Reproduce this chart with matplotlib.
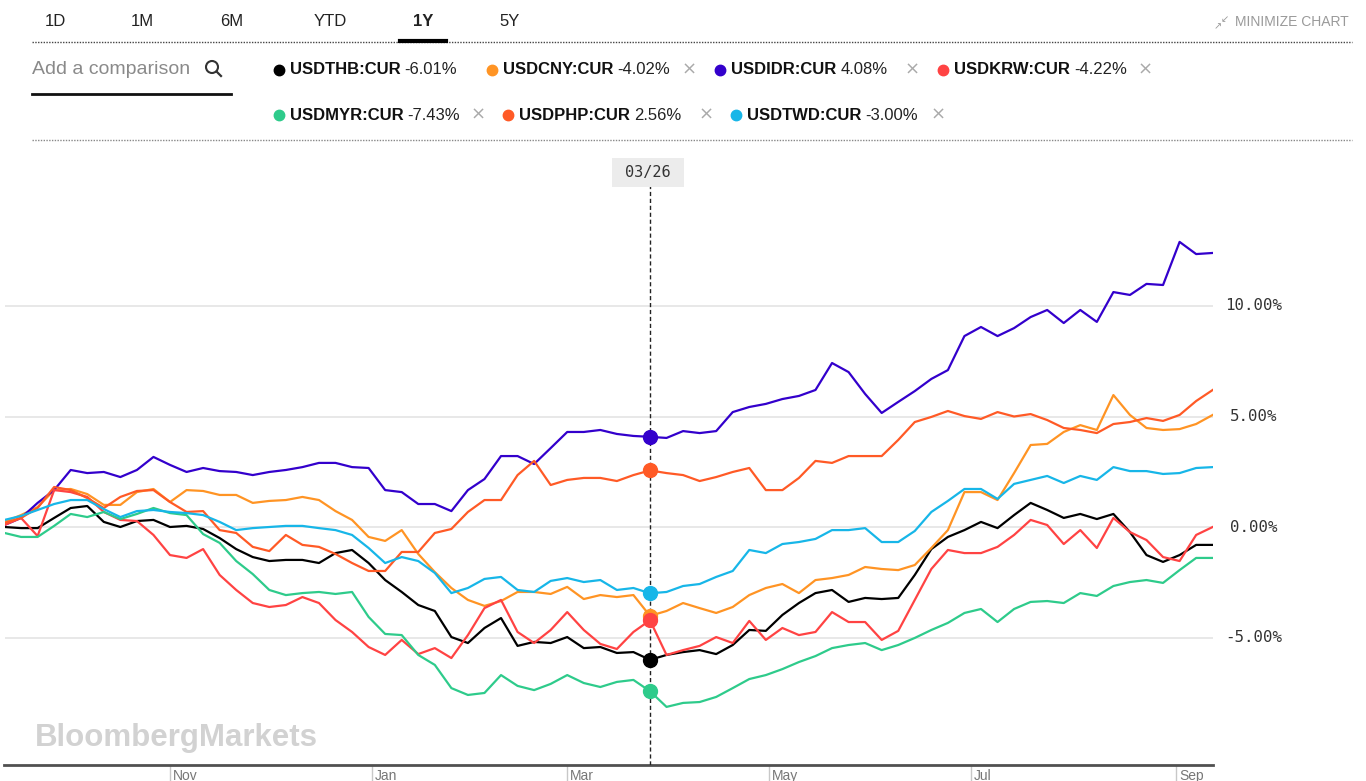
import matplotlib
matplotlib.use('Agg')
import matplotlib.pyplot as plt
from matplotlib.lines import Line2D
from matplotlib.patches import Rectangle, Ellipse
import pandas as pd

# ---------------- data ----------------
start_date = '2017-09-12'
step_days = 5
n_points = 74
hover_day = '2018-03-26'

usdthb = [0.00, -0.05, -0.05, 0.41, 0.86, 0.95, 0.23, 0.00, 0.27, 0.32,
          0.00, 0.05, -0.09, -0.50, -1.00, -1.36, -1.54, -1.49, -1.49, -1.63,
          -1.18, -1.04, -1.63, -2.40, -2.94, -3.53, -3.80, -4.98, -5.25, -4.57,
          -4.12, -5.38, -5.20, -5.25, -4.98, -5.48, -5.43, -5.70, -5.66, -6.01,
          -5.79, -5.66, -5.57, -5.75, -5.34, -4.66, -4.70, -3.98, -3.44, -2.99,
          -2.85, -3.39, -3.21, -3.26, -3.21, -2.17, -1.00, -0.45, -0.14, 0.23,
          -0.05, 0.54, 1.09, 0.77, 0.41, 0.59, 0.36, 0.59, -0.23, -1.27,
          -1.58, -1.27, -0.81, -0.81]
usdcny = [0.23, 0.54, 0.90, 1.67, 1.72, 1.49, 1.00, 1.00, 1.58, 1.72,
          1.13, 1.67, 1.63, 1.45, 1.45, 1.09, 1.18, 1.22, 1.36, 1.22,
          0.72, 0.32, -0.45, -0.63, -0.14, -1.22, -2.04, -2.76, -3.30, -3.57,
          -3.35, -2.94, -2.94, -3.03, -2.71, -3.26, -3.08, -3.17, -3.08, -4.02,
          -3.80, -3.44, -3.67, -3.89, -3.62, -3.08, -2.76, -2.58, -2.99, -2.40,
          -2.31, -2.17, -1.81, -1.90, -1.95, -1.72, -0.95, -0.14, 1.58, 1.58,
          1.22, 2.44, 3.71, 3.76, 4.30, 4.61, 4.39, 5.97, 5.07, 4.48,
          4.39, 4.43, 4.66, 5.07]
usdidr = [0.09, 0.41, 1.09, 1.67, 2.58, 2.44, 2.49, 2.26, 2.58, 3.17,
          2.81, 2.49, 2.67, 2.53, 2.49, 2.35, 2.49, 2.58, 2.71, 2.90,
          2.90, 2.71, 2.67, 1.67, 1.58, 1.04, 1.04, 0.72, 1.67, 2.17,
          3.21, 3.21, 2.85, 3.57, 4.30, 4.30, 4.39, 4.21, 4.12, 4.08,
          4.03, 4.34, 4.25, 4.34, 5.20, 5.43, 5.57, 5.79, 5.93, 6.20,
          7.42, 7.01, 6.02, 5.16, 5.66, 6.15, 6.70, 7.10, 8.64, 9.05,
          8.64, 9.00, 9.50, 9.82, 9.23, 9.82, 9.28, 10.63, 10.50, 11.00,
          10.95, 12.90, 12.35, 12.40]
usdkrw = [0.09, 0.41, -0.41, 1.67, 1.58, 1.36, 0.68, 0.32, 0.27, -0.36,
          -1.27, -1.40, -1.00, -2.17, -2.85, -3.44, -3.62, -3.53, -3.17, -3.44,
          -4.21, -4.75, -5.43, -5.79, -5.11, -5.75, -5.48, -5.93, -4.89, -3.67,
          -3.30, -4.75, -5.25, -4.66, -3.85, -4.66, -5.29, -5.52, -4.75, -4.22,
          -5.79, -5.57, -5.38, -4.98, -5.25, -4.25, -5.11, -4.57, -4.89, -4.75,
          -3.85, -4.30, -4.30, -5.11, -4.70, -3.30, -1.90, -1.04, -1.18, -1.18,
          -0.90, -0.36, 0.32, 0.09, -0.77, -0.14, -0.95, 0.41, -0.23, -0.59,
          -1.36, -1.54, -0.36, 0.00]
usdmyr = [-0.27, -0.45, -0.45, 0.05, 0.59, 0.45, 0.68, 0.36, 0.59, 0.86,
          0.63, 0.54, -0.32, -0.72, -1.54, -2.13, -2.85, -3.08, -2.99, -2.94,
          -3.03, -2.94, -4.07, -4.84, -4.89, -5.79, -6.24, -7.29, -7.60, -7.51,
          -6.70, -7.19, -7.38, -7.10, -6.70, -7.06, -7.24, -7.01, -6.92, -7.43,
          -8.14, -7.96, -7.92, -7.69, -7.29, -6.88, -6.70, -6.43, -6.11, -5.84,
          -5.48, -5.34, -5.25, -5.57, -5.34, -5.02, -4.66, -4.34, -3.89, -3.71,
          -4.30, -3.71, -3.39, -3.35, -3.44, -2.99, -3.12, -2.67, -2.49, -2.40,
          -2.53, -1.95, -1.40, -1.40]
usdphp = [0.18, 0.41, 0.86, 1.81, 1.67, 1.31, 0.86, 1.36, 1.63, 1.67,
          1.13, 0.68, 0.72, -0.14, -0.27, -0.90, -1.09, -0.36, -0.81, -0.90,
          -1.22, -1.63, -1.99, -1.99, -1.13, -1.13, -0.27, -0.09, 0.68, 1.22,
          1.22, 2.35, 2.99, 1.90, 2.13, 2.22, 2.22, 2.08, 2.35, 2.56,
          2.44, 2.35, 2.08, 2.26, 2.49, 2.67, 1.67, 1.67, 2.22, 2.99,
          2.90, 3.21, 3.21, 3.21, 3.94, 4.75, 4.98, 5.25, 5.02, 4.89,
          5.20, 5.00, 5.11, 4.84, 4.48, 4.39, 4.25, 4.66, 4.75, 4.93,
          4.80, 5.07, 5.70, 6.20]
usdtwd = [0.32, 0.50, 0.77, 1.04, 1.22, 1.22, 0.81, 0.45, 0.72, 0.77,
          0.68, 0.63, 0.54, 0.23, -0.14, -0.05, 0.00, 0.05, 0.05, -0.05,
          -0.14, -0.36, -0.95, -1.63, -1.36, -1.54, -2.08, -2.99, -2.76, -2.35,
          -2.26, -2.85, -2.94, -2.44, -2.31, -2.49, -2.40, -2.85, -2.76, -3.00,
          -2.94, -2.67, -2.58, -2.26, -1.99, -1.04, -1.18, -0.77, -0.68, -0.54,
          -0.14, -0.14, -0.05, -0.68, -0.68, -0.18, 0.68, 1.18, 1.72, 1.72,
          1.27, 1.95, 2.13, 2.31, 1.99, 2.31, 2.13, 2.71, 2.53, 2.53,
          2.40, 2.44, 2.67, 2.71]

series_names = ['USDTHB:CUR', 'USDCNY:CUR', 'USDIDR:CUR', 'USDKRW:CUR',
                'USDMYR:CUR', 'USDPHP:CUR', 'USDTWD:CUR']
series_values = [usdthb, usdcny, usdidr, usdkrw, usdmyr, usdphp, usdtwd]
series_colors = ['#000000', '#ff9424', '#3300cc', '#ff4343',
                 '#2ecb8b', '#ff5a26', '#17b6e8']
y_ticks = [-5, 0, 5, 10]
tabs = ['1D', '1M', '6M', 'YTD', '1Y', '5Y']
active_tab = '1Y'

dates = pd.date_range(start_date, periods=n_points, freq=f'{step_days}D')
hover = pd.Timestamp(hover_day)
hidx = dates.get_loc(hover)

# ---------------- figure ----------------
W, H = 1366, 781
fig = plt.figure(figsize=(W / 100, H / 100), dpi=100)
fig.patch.set_facecolor('white')
SANS = 'Liberation Sans'
MONO = 'DejaVu Sans Mono'


def fx(x):
    return x / W


def fy(y):
    return 1 - y / H


# plot area (pixel layout)
L, R, T, B = 4.5, 1212.7, 150, 765
ax = fig.add_axes([fx(L), fy(B), (R - L) / W, (B - T) / H])
zero_px, px_per_pct = 527, 22.1
ax.set_ylim((zero_px - B) / px_per_pct, (zero_px - T) / px_per_pct)
ax.set_xlim(dates[0], dates[-1])
for s in ['top', 'left', 'right']:
    ax.spines[s].set_visible(False)
ax.spines['bottom'].set_color('#505050')
ax.spines['bottom'].set_linewidth(2)
ax.set_yticks(y_ticks)
ax.tick_params(axis='y', length=0, labelleft=False, labelright=False)
ax.grid(axis='y', color='#e4e4e4', linewidth=1.2)
ax.set_axisbelow(True)
for v in y_ticks:
    ax.annotate(f'{v:.2f}%', xy=(1, v), xycoords=('axes fraction', 'data'),
                xytext=(29.5, 0), textcoords='offset points', ha='center',
                va='center', fontsize=11.3, family=MONO, color='#333333',
                annotation_clip=False)

months = pd.date_range('2017-11-01', dates[-1], freq='2MS')
ax.set_xticks(months)
ax.tick_params(axis='x', direction='out', length=11.5, width=1,
               color='#c8c8c8', labelbottom=False)
for m in months:
    ax.annotate(m.strftime('%b'), xy=(m, 0), xycoords=('data', 'axes fraction'),
                xytext=(2, -8), textcoords='offset points', ha='left',
                va='center', fontsize=10, family=SANS, color='#777777',
                annotation_clip=False)

for vals, c in zip(series_values, series_colors):
    ax.plot(dates, vals, color=c, lw=1.6, solid_joinstyle='round', zorder=3)

# hover cursor
ax.axvline(hover, ymin=0, ymax=(B - 186) / (B - T), color='#222222', lw=1,
           linestyle=(0, (3, 2)), zorder=4)
for vals, c in zip(series_values, series_colors):
    ax.plot([dates[hidx]], [vals[hidx]], 'o', ms=10, color=c, zorder=5)

fig.add_artist(Rectangle((fx(612), fy(187)), 72 / W, 29 / H,
                         transform=fig.transFigure, color='#ececec', lw=0))
fig.text(fx(648), fy(172), hover.strftime('%m/%d'), ha='center', va='center',
         fontsize=11, family=MONO, color='#333333')

# watermark
fig.text(fx(35), fy(738), 'BloombergMarkets', ha='left', va='center',
         fontsize=22.5, fontweight='bold', family=SANS, color='#d2d2d2')

# ---------------- header ----------------
tab_x = [55, 142, 232, 330, 423, 510]
for t, x in zip(tabs, tab_x):
    fig.text(fx(x), fy(22), t, ha='center', va='center', fontsize=12,
             family=SANS, color='#222222',
             fontweight='bold' if t == active_tab else 'normal')
fig.add_artist(Line2D([fx(32), fx(1352)], [fy(42), fy(42)], lw=1,
                      color='#444444', linestyle=(0, (1, 1)),
                      transform=fig.transFigure))
fig.add_artist(Line2D([fx(400), fx(446)], [fy(41), fy(41)], lw=3,
                      color='#000000', transform=fig.transFigure))
fig.text(fx(1235), fy(22), 'MINIMIZE CHART', ha='left', va='center',
         fontsize=10, family=SANS, color='#9a9a9a')
fig.text(fx(1225), fy(19), '\u2199', ha='center', va='center', fontsize=7,
         family='DejaVu Sans', color='#9a9a9a')
fig.text(fx(1218), fy(26), '\u2197', ha='center', va='center', fontsize=7,
         family='DejaVu Sans', color='#9a9a9a')

fig.text(fx(32), fy(69), 'Add a comparison', ha='left', va='center',
         fontsize=14, family=SANS, color='#8a8a8a')
fig.add_artist(Ellipse((fx(212), fy(67)), 12 / W, 12 / H,
                       transform=fig.transFigure, fill=False, lw=1.5,
                       ec='#333333'))
fig.add_artist(Line2D([fx(216.5), fx(221)], [fy(71.5), fy(76)], lw=1.6,
                      color='#333333', transform=fig.transFigure))
fig.add_artist(Line2D([fx(32), fx(231)], [fy(94), fy(94)], lw=2,
                      color='#111111', transform=fig.transFigure))
fig.add_artist(Line2D([fx(32), fx(1352)], [fy(140), fy(140)], lw=1,
                      color='#888888', linestyle=(0, (1, 1)),
                      transform=fig.transFigure))

fig.canvas.draw()
rend = fig.canvas.get_renderer()

legend_dot_x = [279, 492, 720, 943, 279, 508, 736]
legend_row_y = [70, 70, 70, 70, 115, 115, 115]
legend_close_x = [None, 689, 912, 1145, 478, 706, 938]
for name, vals, c, dx, ry, cx in zip(series_names, series_values,
                                     series_colors, legend_dot_x,
                                     legend_row_y, legend_close_x):
    fig.add_artist(Line2D([fx(dx)], [fy(ry)], marker='o', ms=7.5, color=c,
                          lw=0, transform=fig.transFigure))
    t = fig.text(fx(dx + 11), fy(ry), name, ha='left', va='center',
                 fontsize=12, fontweight='bold', family=SANS, color='#111111')
    bb = t.get_window_extent(renderer=rend)
    fig.text(fx(bb.x1 + 4), fy(ry), f'{vals[hidx]:.2f}%', ha='left',
             va='center', fontsize=12, family=SANS, color='#222222')
    if cx is not None:
        fig.text(fx(cx), fy(ry), '\u00d7', ha='center', va='center',
                 fontsize=13, family='DejaVu Sans', color='#aaaaaa')

fig.savefig('out.png', dpi=100, facecolor='white')
